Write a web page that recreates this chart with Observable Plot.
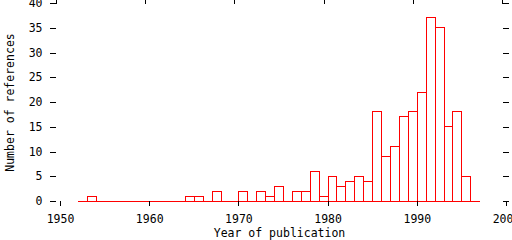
<!DOCTYPE html>
<html><head><meta charset="utf-8">
<script src="https://cdn.jsdelivr.net/npm/d3@7"></script>
<script src="https://cdn.jsdelivr.net/npm/@observablehq/plot@0.6"></script>
<style>body{margin:0;background:#fff} svg{display:block} svg line, svg rect, svg path{shape-rendering:crispEdges}</style>
</head><body><div id="chart"></div>
<script>
const years = [1953,1954,1955,1956,1957,1958,1959,1960,1961,1962,1963,1964,1965,1966,1967,1968,1969,1970,1971,1972,1973,1974,1975,1976,1977,1978,1979,1980,1981,1982,1983,1984,1985,1986,1987,1988,1989,1990,1991,1992,1993,1994,1995,1996,1997];
const counts = [0,1,0,0,0,0,0,0,0,0,0,0,1,1,0,2,0,0,2,0,2,1,3,0,2,2,6,1,5,3,4,5,4,18,9,11,17,18,22,37,35,15,18,5,0];
const xTicks = [1950,1960,1970,1980,1990,2000];
const yTicks = [0,5,10,15,20,25,30,35,40];
const xLabel = "Year of publication";
const yLabel = "Number of references";

const data = years.map((y, i) => ({year: y, count: counts[i]}));
const base = [{y: 0, a: d3.min(years) - 0.5, b: d3.max(years) + 0.5}];

const chart = Plot.plot({
  width: 512, height: 240,
  marginLeft: 56, marginRight: 10, marginTop: 3, marginBottom: 39,
  style: {fontFamily: "'DejaVu Sans Mono', monospace", fontSize: "11.5px", color: "black", background: "white"},
  x: {domain: [xTicks[0], xTicks[xTicks.length - 1]]},
  y: {domain: [yTicks[0], yTicks[yTicks.length - 1]]},
  marks: [
    Plot.ruleY(base, {y: "y", x1: "a", x2: "b", stroke: "red", strokeWidth: 1}),
    Plot.rect(data, {x1: d => d.year - 0.5, x2: d => d.year + 0.5, y1: d => 0, y2: "count", stroke: "red", fill: "none", strokeWidth: 1}),
    Plot.axisX({anchor: "bottom", ticks: xTicks, tickSize: 5, tickPadding: 8, dx: 4, tickFormat: d => String(d), label: xLabel, labelAnchor: "center", labelArrow: "none", labelOffset: 35}),
    Plot.axisX({anchor: "top", ticks: xTicks, tickSize: 5, tickFormat: () => "", label: null}),
    Plot.axisY({anchor: "left", ticks: yTicks, tickSize: 6, tickPadding: 8, label: yLabel, labelAnchor: "center", labelArrow: "none", labelOffset: 51}),
    Plot.axisY({anchor: "right", ticks: yTicks, tickSize: 6, tickFormat: () => "", label: null})
  ]
});
document.getElementById("chart").appendChild(chart);
</script>
</body></html>
